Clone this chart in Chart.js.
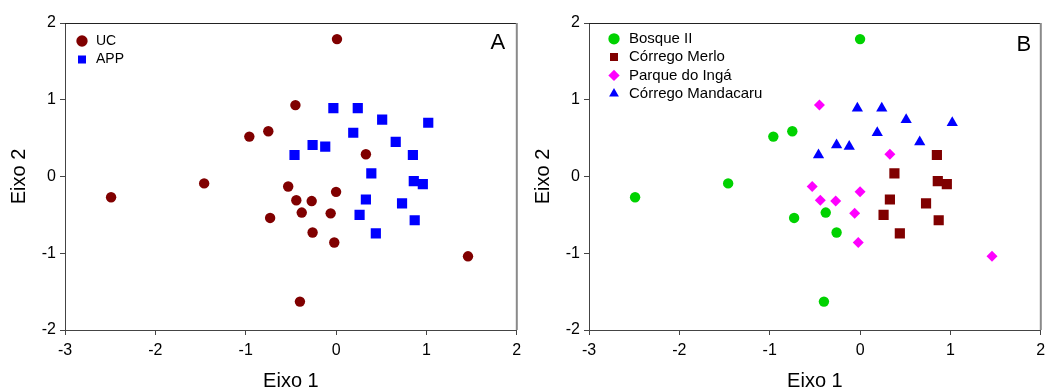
<!DOCTYPE html>
<html>
<head>
<meta charset="utf-8">
<script src="https://cdn.jsdelivr.net/npm/chart.js@4/dist/chart.umd.min.js"></script>
<style>
	body { margin: 0; background: #fff; }
	.panel { position: absolute; top: 0; width: 524px; height: 389px; }
</style>
</head>
<body>
<div class="panel" style="left:0"><canvas id="chartA" width="524" height="389"></canvas></div>
<div class="panel" style="left:524px"><canvas id="chartB" width="524" height="389"></canvas></div>
<script>
// eixos
var xTicks = [-3, -2, -1, 0, 1, 2];
var yTicks = [-2, -1, 0, 1, 2];

// painel A
var ucX = [0.01, -0.45, -0.75, -0.96, 0.33, -1.46, -2.49, -0.53, 0.00, -0.44, -0.27, -0.38, -0.06, -0.73, -0.26, -0.02, 1.46, -0.40];
var ucY = [1.79, 0.93, 0.59, 0.52, 0.29, -0.09, -0.27, -0.13, -0.20, -0.31, -0.32, -0.47, -0.48, -0.54, -0.73, -0.86, -1.04, -1.63];
var appX = [-0.03, 0.24, 0.51, 1.02, 0.19, 0.66, -0.26, -0.12, -0.46, 0.85, 0.39, 0.86, 0.96, 0.33, 0.73, 0.26, 0.87, 0.44];
var appY = [0.89, 0.89, 0.74, 0.70, 0.57, 0.45, 0.41, 0.39, 0.28, 0.28, 0.04, -0.06, -0.10, -0.30, -0.35, -0.50, -0.57, -0.74];

// painel B
var bosqueX = [0.00, -0.75, -0.96, -1.46, -2.49, -0.38, -0.73, -0.26, -0.40];
var bosqueY = [1.79, 0.59, 0.52, -0.09, -0.27, -0.47, -0.54, -0.73, -1.63];
var merloX = [0.85, 0.38, 0.86, 0.96, 0.33, 0.73, 0.26, 0.87, 0.44];
var merloY = [0.28, 0.04, -0.06, -0.10, -0.30, -0.35, -0.50, -0.57, -0.74];
var ingaX = [-0.45, 0.33, -0.53, 0.00, -0.44, -0.27, -0.06, -0.02, 1.46];
var ingaY = [0.93, 0.29, -0.13, -0.20, -0.31, -0.32, -0.48, -0.86, -1.04];
var mandaX = [-0.03, 0.24, 0.51, 1.02, 0.19, 0.66, -0.26, -0.12, -0.46];
var mandaY = [0.89, 0.89, 0.74, 0.70, 0.57, 0.45, 0.41, 0.39, 0.28];

var FONT = "'Liberation Sans', Arial, sans-serif";

function pts(xs, ys) {
	return xs.map(function (x, i) { return { x: x, y: ys[i] }; });
}

function serie(label, xs, ys, color, style, r) {
	return {
		label: label,
		data: pts(xs, ys),
		backgroundColor: color,
		borderColor: color,
		borderWidth: 0,
		pointStyle: style,
		pointRadius: r,
		pointHoverRadius: r
	};
}

// moldura (topo e direita), letra do painel, posicao da legenda
var frame = {
	id: 'frame',
	afterLayout: function (chart, args, opts) {
		var lg = chart.legend, a = chart.chartArea;
		lg.left = a.left + opts.dx;
		lg.top = a.top + opts.dy;
		lg.right = a.right;
		lg.bottom = a.bottom;
	},
	afterDraw: function (chart, args, opts) {
		var ctx = chart.ctx, a = chart.chartArea;
		ctx.save();
		ctx.strokeStyle = '#222';
		ctx.lineWidth = 1;
		ctx.beginPath();
		ctx.moveTo(a.left, a.top + 0.5);
		ctx.lineTo(a.right, a.top + 0.5);
		ctx.stroke();
		ctx.strokeStyle = '#8a8a8a';
		ctx.lineWidth = 2;
		ctx.beginPath();
		ctx.moveTo(a.right, a.top);
		ctx.lineTo(a.right, a.bottom);
		ctx.stroke();
		ctx.fillStyle = '#000';
		ctx.font = '22px ' + FONT;
		ctx.textAlign = 'center';
		ctx.textBaseline = 'middle';
		ctx.fillText(opts.letter, a.right - opts.lx, a.top + opts.ly);
		ctx.restore();
	}
};

function eixo(title, ticks, min, max, horiz) {
	return {
		type: 'linear',
		min: min,
		max: max,
		afterBuildTicks: function (s) { s.ticks = ticks.map(function (v) { return { value: v }; }); },
		afterFit: function (s) {
			if (horiz) {
				s.height = 59;
				s.paddingLeft = 0;
				s.paddingRight = 0;
			} else {
				s.width = 65;
			}
		},
		grid: { drawOnChartArea: false, drawTicks: true, tickLength: 5, color: '#444' },
		border: { display: true, color: '#444', width: 1 },
		ticks: {
			color: '#000',
			padding: horiz ? 6 : 4,
			font: { family: FONT, size: 16 }
		},
		title: {
			display: true,
			text: title,
			color: '#000',
			font: { family: FONT, size: 20, lineHeight: 0.8 },
			padding: horiz ? { top: 0, bottom: 0 } : { top: 11, bottom: 0 }
		}
	};
}

function painel(id, datasets, letter, lg) {
	var ctx = document.getElementById(id).getContext('2d');
	return new Chart(ctx, {
		type: 'scatter',
		data: { datasets: datasets },
		plugins: [frame],
		options: {
			responsive: false,
			animation: false,
			layout: { padding: { left: 0, right: 6, top: 23, bottom: 0 } },
			scales: {
				x: eixo('Eixo 1', xTicks, -3, 2, true),
				y: eixo('Eixo 2', yTicks, -2, 2, false)
			},
			plugins: {
				legend: {
					position: 'chartArea',
					align: 'start',
					labels: {
						usePointStyle: true,
						boxHeight: 8,
						padding: lg.pad,
						color: '#000',
						font: { family: FONT, size: lg.size }
					}
				},
				tooltip: { enabled: false },
				frame: { letter: letter, dx: lg.dx, dy: lg.dy, lx: lg.lx, ly: lg.ly }
			}
		}
	});
}

Chart.defaults.font.family = FONT;

painel('chartA', [
	serie('UC', ucX, ucY, '#800000', 'circle', 5.2),
	serie('APP', appX, appY, '#0000ff', 'rect', 7.2)
], 'A', { size: 14, pad: 4.5, dx: 5.5, dy: 6.5, lx: 19, ly: 20 });

painel('chartB', [
	serie('Bosque II', bosqueX, bosqueY, '#00d200', 'circle', 5.2),
	serie('Córrego Merlo', merloX, merloY, '#800000', 'rect', 7.2),
	serie('Parque do Ingá', ingaX, ingaY, '#ff00ff', 'rectRot', 5.5),
	serie('Córrego Mandacaru', mandaX, mandaY, '#0000ff', 'triangle', 6.5)
], 'B', { size: 15, pad: 3.3, dx: 14.2, dy: 5, lx: 17, ly: 22 });
</script>
</body>
</html>
